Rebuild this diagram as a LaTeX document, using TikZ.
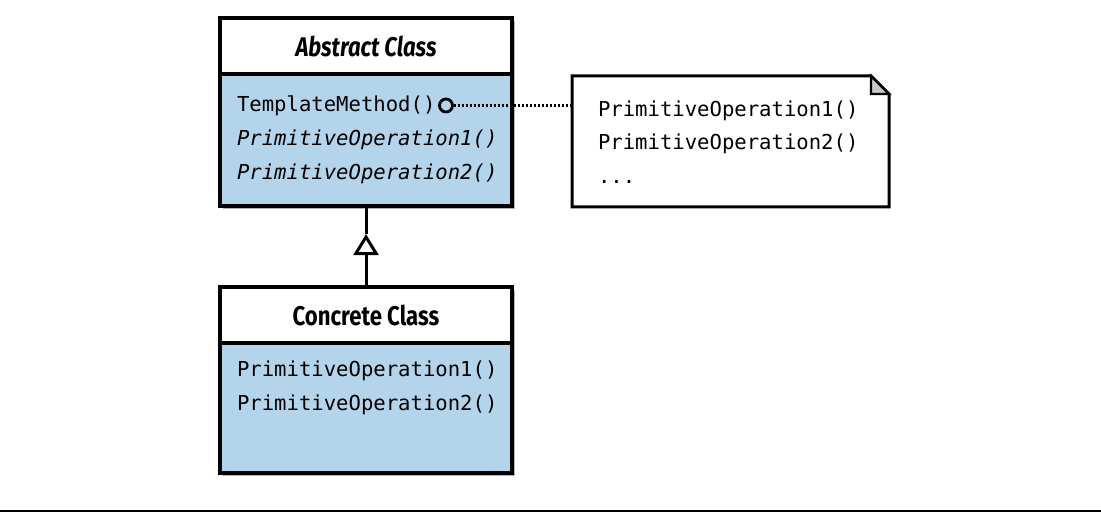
\documentclass[tikz,border=0pt]{standalone}
\usepackage{fontspec}
\usepackage{tikz}
\usetikzlibrary{arrows.meta, positioning, shadows}
\usepackage{xcolor}
\newfontfamily\codefont{DejaVu Sans Mono}
\newfontfamily\headfont[FakeStretch=0.82]{Fira Sans}
\definecolor{classblue}{RGB}{179,212,234}
\definecolor{foldgray}{RGB}{200,200,200}

\begin{document}
\begin{tikzpicture}[
  x=1pt, y=1pt,
  node distance=0pt,
  boxshadow/.style={drop shadow={shadow xshift=3pt, shadow yshift=-3pt, fill=black, opacity=0.3}},
  classhead/.style={rectangle, draw, line width=3.2pt, fill=white, minimum width=292pt, minimum height=56pt, inner sep=0pt, outer sep=0pt, font=\headfont\bfseries\fontsize{27}{32}\selectfont, boxshadow},
  classbody/.style={rectangle, draw, line width=3.2pt, fill=classblue, minimum width=292pt, inner sep=0pt, outer sep=0pt, boxshadow},
  methods/.style={inner sep=0pt, outer sep=0pt, align=left, font=\codefont\fontsize{20.6}{34}\selectfont},
  notebox/.style={rectangle, minimum width=317pt, minimum height=131pt, inner sep=0pt, outer sep=0pt},
  hookdot/.style={circle, draw, line width=2.8pt, fill=classblue, minimum size=13pt, inner sep=0pt},
  gen/.style={line width=3pt, -{Triangle[open, length=21pt, width=25pt]}},
  link/.style={line width=3pt},
  dotlink/.style={line width=2.6pt, dash pattern=on 2pt off 2pt}
]
\useasboundingbox (0,0) rectangle (1101,-513);

% Abstract class
\node[classhead] (achead) at (366,-46) {\itshape Abstract Class};
\node[classbody, below=of achead, minimum height=132pt] (acbody) {};
\node[methods, below right=22pt and 17pt of acbody.north west] (acops)
  {TemplateMethod()\\\textit{PrimitiveOperation1()}\\\textit{PrimitiveOperation2()}};

% Concrete class
\node[classhead, below=81pt of acbody] (cchead) {Concrete Class};
\node[classbody, below=of cchead, minimum height=130pt] (ccbody) {};
\node[methods, below right=18pt and 17pt of ccbody.north west] (ccops)
  {PrimitiveOperation1()\\PrimitiveOperation2()};

% Note with folded corner
\node[notebox, below right=2pt and 60pt of acbody.north east] (note) {};
\draw[line width=3pt, fill=white, line join=miter]
  (note.north west) -- ([xshift=-18pt]note.north east) -- ([yshift=-18pt]note.north east)
  -- (note.south east) -- (note.south west) -- cycle;
\draw[line width=2.2pt, fill=foldgray, line join=miter]
  ([xshift=-18pt]note.north east) -- ([xshift=-18pt, yshift=-18pt]note.north east)
  -- ([yshift=-18pt]note.north east) -- cycle;
\node[methods, font=\codefont\fontsize{20.6}{33.3}\selectfont,
  below right=25pt and 26pt of note.north west] (noteops)
  {PrimitiveOperation1()\\PrimitiveOperation2()\\...};

% Template method hook
\node[hookdot] (tmdot) at (446,-105.5) {};
\draw[dotlink] (tmdot.east) -- (tmdot.east -| note.west);

% Generalization
\path (acbody.south) -- (cchead.north) coordinate[pos=0.346] (gentip);
\draw[gen] (cchead.north) -- (gentip);
\draw[link] (gentip) -- (acbody.south);

% Bottom rule
\draw[line width=2pt] (0,-511) -- (1101,-511);

\end{tikzpicture}
\end{document}
